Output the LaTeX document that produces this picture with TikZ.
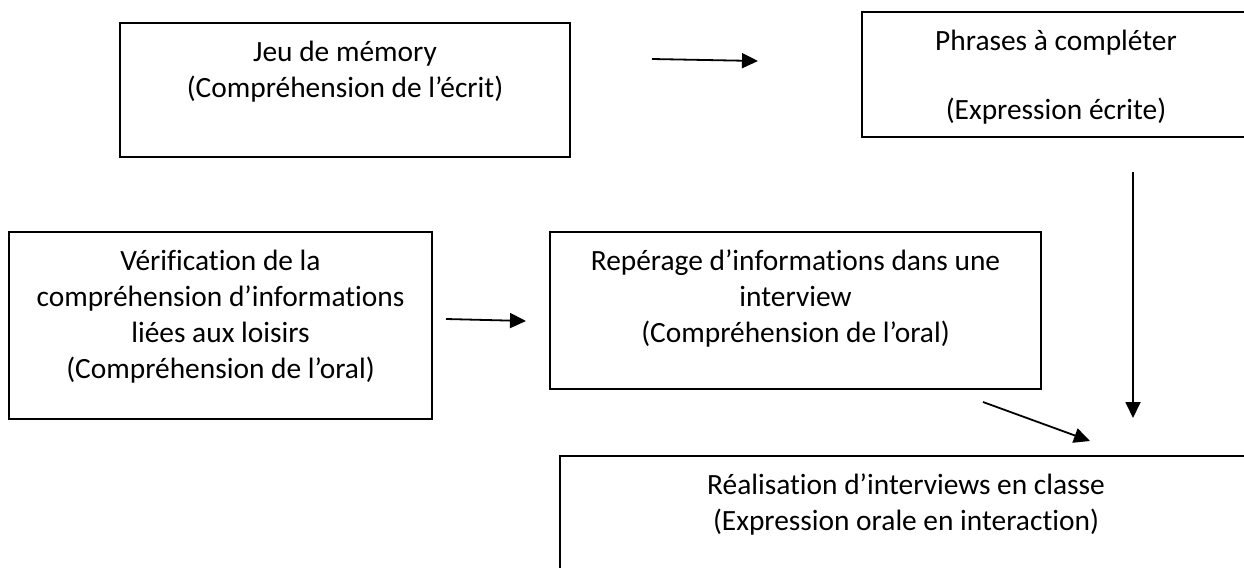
\documentclass[tikz,border=0pt]{standalone}
\usepackage{fontspec}
\setmainfont[Ligatures=NoCommon]{Carlito}
\usetikzlibrary{arrows.meta}
\newcommand\nolg{\kern0pt{}}
\tikzset{
  boxline/.style={draw=black, line width=1pt},
  txt/.style={anchor=base, inner sep=0pt, font=\fontsize{14.7}{18}\selectfont},
  arr/.style={draw=black, line width=0.9pt, -{Triangle[length=8pt,width=7.5pt]}}
}
\begin{document}
\begin{tikzpicture}[x=0.5pt,y=-0.5pt]
\useasboundingbox (0,0) rectangle (1244,568);
\clip (0,0) rectangle (1244,568);
\fill[white] (0,0) rectangle (1244,568);
% boxes
\draw[boxline] (120,23) rectangle (570,157);
\draw[boxline] (862,12) rectangle (1252,137);
\draw[boxline] (9,232) rectangle (432,419);
\draw[boxline] (550,232) rectangle (1041,389);
\draw[boxline] (560,456) rectangle (1254,640);
% texts
\node[txt] (t1a) at (345,61) {Jeu de mémory};
\node[txt] (t1b) at (345,97) {(Compréhension de l’écrit)};
\node[txt] (t2a) at (1056,50) {Phrases à compléter};
\node[txt] (t2b) at (1056,119) {(Expression écrite)};
\node[txt] (t3a) at (220.5,270) {Vérificat\nolg ion de la};
\node[txt] (t3b) at (220.5,306) {compréhension d’informat\nolg ions};
\node[txt] (t3c) at (220.5,342) {liées aux loisirs};
\node[txt] (t3d) at (220.5,378) {(Compréhension de l’oral)};
\node[txt] (t4a) at (795.5,270) {Repérage d’informat\nolg ions dans une};
\node[txt] (t4b) at (795.5,306) {interview};
\node[txt] (t4c) at (795.5,342) {(Compréhension de l’oral)};
\node[txt] (t5a) at (906,494) {Réalisat\nolg ion d’interviews en classe};
\node[txt] (t5b) at (906,530) {(Expression orale en interact\nolg ion)};
% arrow endpoints
\coordinate (a1s) at (652,59);
\coordinate (a1e) at (758,61);
\coordinate (a2s) at (446,319);
\coordinate (a2e) at (526,321);
\coordinate (a3s) at (983,402);
\coordinate (a3e) at (1090,441);
\coordinate (a4s) at (1133,172);
\coordinate (a4e) at (1133,418);
\draw[arr] (a1s) -- (a1e);
\draw[arr] (a2s) -- (a2e);
\draw[arr] (a3s) -- (a3e);
\draw[arr] (a4s) -- (a4e);
\end{tikzpicture}
\end{document}
